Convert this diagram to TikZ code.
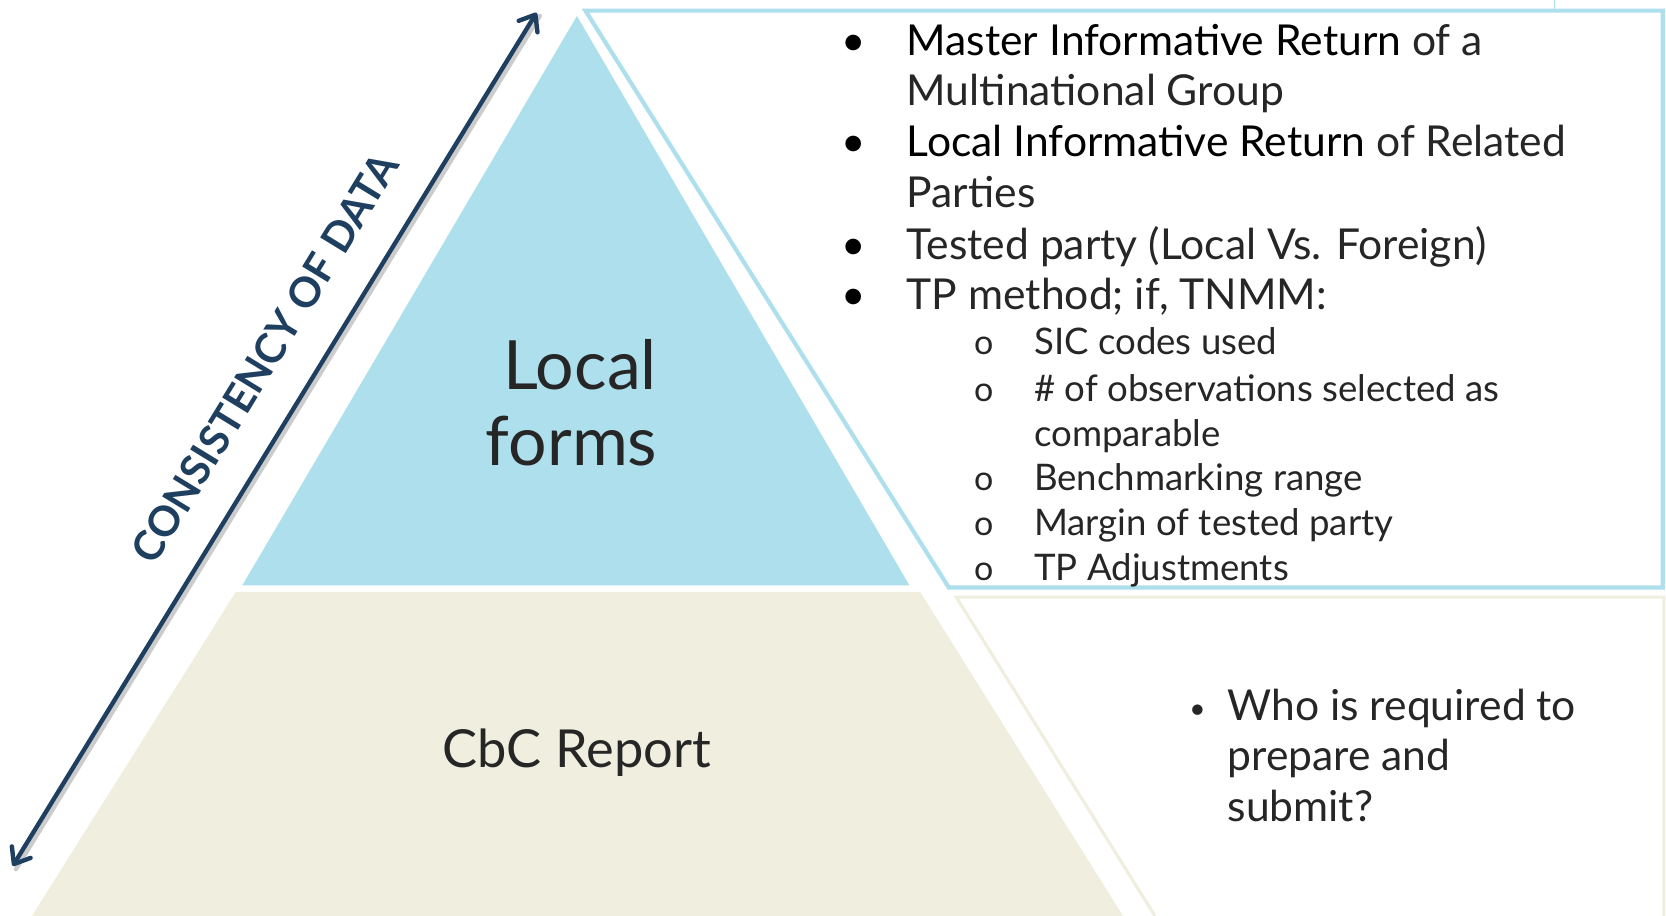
\documentclass[tikz,border=0pt]{standalone}
\usepackage{fontspec}
\setmainfont{Lato}
\usetikzlibrary{arrows.meta,calc}
\definecolor{pblue}{HTML}{ADDFED}
\definecolor{pbeige}{HTML}{F0EFDF}
\definecolor{navy}{HTML}{1E3F5F}
\colorlet{lighttext}{black!85}
\newcommand{\strongpart}[1]{\textcolor{black}{#1}}
\tikzset{
  mainitem/.style={anchor=base west, inner sep=0pt, text=lighttext, font=\fontsize{21.3}{25}\selectfont},
  subitem/.style={anchor=base west, inner sep=0pt, text=lighttext, font=\fontsize{18.3}{22}\selectfont},
  bul/.style={anchor=base, inner sep=0pt, font=\fontsize{21}{25}\selectfont},
  subbul/.style={anchor=base, inner sep=0pt, text=lighttext, font=\fontsize{17}{20}\selectfont},
  bignode/.style={align=center, inner sep=0pt, text=lighttext},
  arr/.style={navy, line width=2.2pt, line cap=round, {Straight Barb[length=7pt,width=11pt,round]}-{Straight Barb[length=7pt,width=11pt,round]}},
}
\begin{document}
\begin{tikzpicture}[x=0.53125pt,y=-0.53125pt]
\useasboundingbox (0,0) rectangle (1568,862);
% pyramid
\fill[pblue] (543,15) -- (856,551) -- (228,551) -- cycle;
\fill[pbeige] (222,557) -- (866,557) -- (1057,862) -- (30,862) -- cycle;
% boxes
\draw[pblue, line width=2.1pt, line join=miter] (551,10) -- (1565,10) -- (1565,553) -- (893,553) -- cycle;
\draw[pblue, line width=0.8pt] (1463,0) -- (1463,10);
\draw[pbeige, line width=1.6pt] (1566,862) -- (1566,562) -- (900,562) -- (1087,862);
% arrow
\coordinate (atop) at (505,12);
\coordinate (abot) at (12,815);
\draw[black!20, line width=2.2pt, line cap=round] ($(abot)+(3,3)$) -- ($(atop)+(3,3)$);
\draw[arr] (abot) -- (atop);
\node[rotate=58.5, text=navy, font=\bfseries\fontsize{20.8}{21}\selectfont] (cons) at (249,337) {CONSISTENCY OF DATA};
% pyramid labels
\node[anchor=base, inner sep=0pt, text=lighttext, font=\fontsize{34}{38}\selectfont] (local) at (546,367) {Local};
\node[anchor=base, inner sep=0pt, text=lighttext, font=\fontsize{34}{38}\selectfont] (forms) at (538,438) {forms};
\node[bignode, font=\fontsize{26.2}{32}\selectfont] (cbc) at (543,708) {CbC Report};
% main bullets
\node[bul] (b1) at (803,52) {•};
\node[mainitem] (t1a) at (853,52) {\strongpart{Master Informative Return} of a};
\node[mainitem] (t1b) at (853,99) {Multinational Group};
\node[bul] (b2) at (803,147) {•};
\node[mainitem] (t2a) at (853,147) {\strongpart{Local Informative Return} of Related};
\node[mainitem] (t2b) at (853,195) {Parties};
\node[bul] (b3) at (803,244) {•};
\node[mainitem] (t3) at (853,244) {Tested party (Local Vs. Foreign)};
\node[bul] (b4) at (803,291) {•};
\node[mainitem] (t4) at (853,291) {TP method; if, TNMM:};
% sub bullets
\node[subbul] (s1) at (926,334) {o};
\node[subitem] (u1) at (973,334) {SIC codes used};
\node[subbul] (s2) at (926,378) {o};
\node[subitem] (u2a) at (973,378) {\# of observations selected as};
\node[subitem] (u2b) at (973,420) {comparable};
\node[subbul] (s3) at (926,462) {o};
\node[subitem] (u3) at (973,462) {Benchmarking range};
\node[subbul] (s4) at (926,504) {o};
\node[subitem] (u4) at (973,504) {Margin of tested party};
\node[subbul] (s5) at (926,546) {o};
\node[subitem] (u5) at (973,546) {TP Adjustments};
% CbC bullet
\node[anchor=base, inner sep=0pt, text=lighttext, font=\fontsize{14}{16}\selectfont] (cb) at (1127,676) {•};
\node[mainitem] (w1) at (1155,678) {Who is required to};
\node[mainitem] (w2) at (1155,725) {prepare and};
\node[mainitem] (w3) at (1155,773) {submit?};
\end{tikzpicture}
\end{document}
